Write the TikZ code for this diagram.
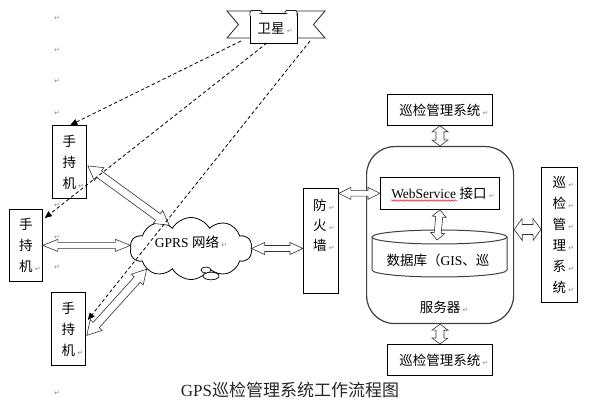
\documentclass[tikz,border=0pt]{standalone}
\usepackage{fontspec}
\setmainfont{Liberation Serif}
\newfontfamily\cjk{Noto Sans CJK SC}
\newfontfamily\symf{DejaVu Sans}
\usetikzlibrary{calc,shapes.symbols,arrows.meta,decorations.pathmorphing}
\newcommand\rtmark{\textcolor{black!45}{\fontsize{7}{7}\selectfont\symf ↵}}
\newcommand\rtl{\rlap{\,\rtmark}}
\newcommand\blockarrowdraw[5]{%
 \filldraw[blockarr] let \p1=(#1), \p2=(#2), \n1={atan2(\y2-\y1,\x2-\x1)} in
  (\p1) -- ($(\p1)+(\n1:#3)+(\n1+90:#4)$) -- ($(\p1)+(\n1:#3)+(\n1+90:#5)$)
  -- ($(\p2)+(\n1:-#3)+(\n1+90:#5)$) -- ($(\p2)+(\n1:-#3)+(\n1+90:#4)$) -- (\p2)
  -- ($(\p2)+(\n1:-#3)+(\n1-90:#4)$) -- ($(\p2)+(\n1:-#3)+(\n1-90:#5)$)
  -- ($(\p1)+(\n1:#3)+(\n1-90:#5)$) -- ($(\p1)+(\n1:#3)+(\n1-90:#4)$) -- cycle;}
\tikzset{
 box/.style={draw=black, line width=0.8pt, fill=white, inner sep=0pt, anchor=north west},
 vtext/.style={font=\fontsize{13.5}{21}\selectfont\cjk, align=center, inner sep=0pt},
 htext/.style={font=\fontsize{13.5}{16}\selectfont, inner sep=0pt},
 blockarr/.style={draw=black!80, line width=0.6pt, fill=white, line join=miter},
 sigline/.style={draw=black, line width=0.8pt, dash pattern=on 3.5pt off 2.5pt, -{Triangle[length=7pt,width=6pt]}},
 retm/.style={inner sep=0pt, font=\fontsize{7}{7}\selectfont\symf, text=black!45},
 tail/.style={draw=black!85, line width=0.8pt, fill=white, line join=miter}
}
\begin{document}
\begin{tikzpicture}[x=1pt,y=-1pt]
\useasboundingbox[fill=white] (0,0) rectangle (598,406);

% paragraph marks in the left margin
\foreach \yy [count=\i] in {18,50,81,113,205,237,267,393}
  \node[retm] (pm\i) at (57,\yy) {↵};

% satellite ribbon
\draw[tail] (227,11) -- (253,11) -- (253,38) -- (227,38) -- (238.5,24.5) -- cycle;
\draw[tail] (294,11) -- (325,11) -- (313.5,24.5) -- (325,38) -- (294,38) -- cycle;
\node[box, minimum width=47pt, minimum height=30pt] (sat) at (250,13) {};
\draw[tail, rounded corners=1.5pt] (250,16) -- (250,10.5) -- (262,10.5) -- (262,13);
\draw[tail, rounded corners=1.5pt] (297,16) -- (297,10.5) -- (285,10.5) -- (285,13);
\node[htext, font=\fontsize{13.5}{16}\selectfont\cjk] (satl) at (271,28) {卫星\rtl};
\coordinate (sL) at (241,41);
\coordinate (sM) at (267,43);
\coordinate (sR) at (310,41);

% cloud
\node[cloud, draw=black, line width=0.8pt, fill=white, cloud puffs=10, cloud puff arc=120,
      aspect=1.9, minimum width=122pt, minimum height=62pt, inner sep=0pt] (cloud) at (191,248.5) {};
\draw[line width=0.7pt, fill=white] (211,276) ellipse[x radius=8pt, y radius=3.8pt];
\draw[line width=0.7pt, fill=white] (206,270) ellipse[x radius=5pt, y radius=3pt];
\node[htext] (gprs) at (187,242) {GPRS {\cjk 网络}\rtl};

% handhelds
\node[box, minimum width=34pt, minimum height=73pt] (h1) at (52,125) {};
\node[vtext] at (h1.center) {手\\持\\机\rtl};
\node[box, minimum width=33pt, minimum height=72pt] (h2) at (9,209) {};
\node[vtext] at (h2.center) {手\\持\\机\rtl};
\node[box, minimum width=34pt, minimum height=73pt] (h3) at (51,292) {};
\node[vtext] at (h3.center) {手\\持\\机\rtl};

% firewall
\node[box, minimum width=35pt, minimum height=105pt] (fw) at (303,188) {};
\node[vtext, font=\fontsize{13.5}{20}\selectfont\cjk] at ($(fw.north)+(-1,37)$) {防\rtl\\火\rtl\\墙\rtl};

% server
\node[draw=black!75, line width=1.2pt, rounded corners=28pt, minimum width=147pt, minimum height=177pt,
      anchor=north west, inner sep=0pt] (srv) at (366,146) {};
\node[box, minimum width=119pt, minimum height=32pt] (ws) at (380,177) {};
\node[htext] (wst) at ($(ws.center)+(-1,0)$) {WebService {\cjk 接口}\rtl};
\draw[red, line width=0.5pt, decorate, decoration={snake, amplitude=0.8pt, segment length=3pt}] (391,200.5) -- (457,200.5);
\path[draw=black!75, line width=1pt, fill=white] (372,237) -- (372,270)
   arc[start angle=180, end angle=360, x radius=67.5pt, y radius=7pt] -- (507,237);
\draw[draw=black!75, line width=1pt, fill=white] (439.5,237) ellipse[x radius=67.5pt, y radius=7pt];
\coordinate (dbtop) at (437,240);
\node[htext] (dbt) at (438,260) {{\cjk 数据库（}GIS{\cjk 、巡}};
\node[htext, font=\fontsize{13.5}{16}\selectfont\cjk] (srvt) at (440,307) {服务器\rtl};

% management system boxes
\node[box, minimum width=105pt, minimum height=31pt] (top) at (387,94) {};
\node[htext, font=\fontsize{13.5}{16}\selectfont\cjk] at (top.center) {巡检管理系统\rtl};
\node[box, minimum width=105pt, minimum height=31pt] (bot) at (387,344) {};
\node[htext, font=\fontsize{13.5}{16}\selectfont\cjk] at (bot.center) {巡检管理系统\rtl};
\node[box, minimum width=36pt, minimum height=135pt] (rb) at (541,167) {};
\node[vtext] at (rb.center) {巡\rtl\\检\rtl\\管\rtl\\理\rtl\\系\rtl\\统\rtl};

% block arrows
\blockarrowdraw{$(h1.east)+(1,4)$}{cloud.133}{14pt}{8pt}{4pt}
\blockarrowdraw{h2.east}{cloud.west |- h2.east}{15pt}{6pt}{3pt}
\blockarrowdraw{$(h3.east)+(1,6.5)$}{cloud.205}{14pt}{8pt}{4pt}
\blockarrowdraw{cloud.east}{fw.west |- cloud.east}{13pt}{6pt}{3pt}
\blockarrowdraw{fw.east |- ws.west}{ws.west}{12pt}{6pt}{2.8pt}
\blockarrowdraw{top.south}{srv.north}{6pt}{8pt}{4pt}
\blockarrowdraw{ws.south}{dbtop}{7pt}{7pt}{3.5pt}
\blockarrowdraw{$(srv.east)+(0,-5.5)$}{$(rb.west)+(0,-5.5)$}{8pt}{11pt}{5pt}
\blockarrowdraw{srv.south}{bot.north}{6pt}{8pt}{4pt}

% satellite signals
\draw[sigline] (sL) -- ($(h1.north)+(1,0)$);
\draw[sigline] (sM) -- ($(h2.north east)+(2,9)$);
\draw[sigline] (sR) -- ($(h3.north east)+(2,28)$);

% caption
\node[inner sep=0pt, font=\fontsize{17}{20}\selectfont, text=black!85] (cap) at (290,390) {GPS{\cjk 巡检管理系统工作流程图}};
\end{tikzpicture}
\end{document}
